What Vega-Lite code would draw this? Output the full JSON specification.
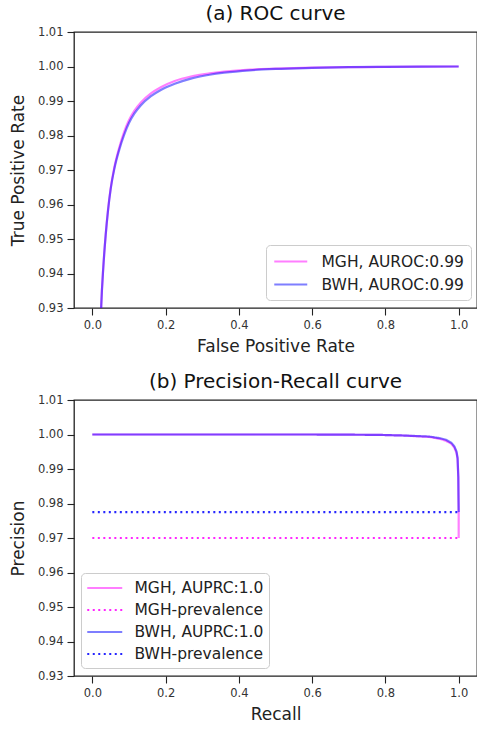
{
  "$schema": "https://vega.github.io/schema/vega-lite/v6.json",
  "padding": {"left": 8, "top": 3, "right": 0, "bottom": 0},
  "config": {
    "font": "DejaVu Sans",
    "view": {"stroke": "#222", "strokeWidth": 1.3},
    "axis": {"grid": false, "domain": false, "tickColor": "#222", "tickSize": 7, "tickWidth": 1.1, "labelFontSize": 11.5, "labelColor": "#333", "titleFontSize": 17, "titleFontWeight": "normal", "titleColor": "#222", "labelPadding": 4},
    "title": {"fontSize": 20, "fontWeight": "normal", "color": "#111", "offset": 2},
    "legend": {"labelFontSize": 15.5, "labelColor": "#222", "strokeColor": "#ccc", "fillColor": "white", "cornerRadius": 4, "symbolType": "M-1,0H3", "symbolStrokeWidth": 2.2, "labelLimit": 300}
  },
  "datasets": {
    "roc": [
      {"s": "MGH, AUROC:0.99", "fpr": 0.012, "tpr": 0.86},
      {"s": "MGH, AUROC:0.99", "fpr": 0.020, "tpr": 0.915},
      {"s": "MGH, AUROC:0.99", "fpr": 0.0245, "tpr": 0.931},
      {"s": "MGH, AUROC:0.99", "fpr": 0.030, "tpr": 0.9418},
      {"s": "MGH, AUROC:0.99", "fpr": 0.0365, "tpr": 0.9512},
      {"s": "MGH, AUROC:0.99", "fpr": 0.043, "tpr": 0.9586},
      {"s": "MGH, AUROC:0.99", "fpr": 0.050, "tpr": 0.9646},
      {"s": "MGH, AUROC:0.99", "fpr": 0.060, "tpr": 0.9707},
      {"s": "MGH, AUROC:0.99", "fpr": 0.073, "tpr": 0.9763},
      {"s": "MGH, AUROC:0.99", "fpr": 0.0865, "tpr": 0.9809},
      {"s": "MGH, AUROC:0.99", "fpr": 0.100, "tpr": 0.9844},
      {"s": "MGH, AUROC:0.99", "fpr": 0.115, "tpr": 0.9872},
      {"s": "MGH, AUROC:0.99", "fpr": 0.132, "tpr": 0.9895},
      {"s": "MGH, AUROC:0.99", "fpr": 0.160, "tpr": 0.9922},
      {"s": "MGH, AUROC:0.99", "fpr": 0.187, "tpr": 0.9940},
      {"s": "MGH, AUROC:0.99", "fpr": 0.225, "tpr": 0.9958},
      {"s": "MGH, AUROC:0.99", "fpr": 0.269, "tpr": 0.9971},
      {"s": "MGH, AUROC:0.99", "fpr": 0.32, "tpr": 0.9980},
      {"s": "MGH, AUROC:0.99", "fpr": 0.36, "tpr": 0.9985},
      {"s": "MGH, AUROC:0.99", "fpr": 0.43, "tpr": 0.9991},
      {"s": "MGH, AUROC:0.99", "fpr": 0.5, "tpr": 0.9994},
      {"s": "MGH, AUROC:0.99", "fpr": 0.6, "tpr": 0.9997},
      {"s": "MGH, AUROC:0.99", "fpr": 0.7, "tpr": 0.9998},
      {"s": "MGH, AUROC:0.99", "fpr": 0.8, "tpr": 0.9999},
      {"s": "MGH, AUROC:0.99", "fpr": 0.9, "tpr": 0.99997},
      {"s": "MGH, AUROC:0.99", "fpr": 1.0, "tpr": 1.0},
      {"s": "BWH, AUROC:0.99", "fpr": 0.012, "tpr": 0.86},
      {"s": "BWH, AUROC:0.99", "fpr": 0.020, "tpr": 0.915},
      {"s": "BWH, AUROC:0.99", "fpr": 0.0245, "tpr": 0.931},
      {"s": "BWH, AUROC:0.99", "fpr": 0.030, "tpr": 0.9418},
      {"s": "BWH, AUROC:0.99", "fpr": 0.0365, "tpr": 0.9512},
      {"s": "BWH, AUROC:0.99", "fpr": 0.043, "tpr": 0.9584},
      {"s": "BWH, AUROC:0.99", "fpr": 0.050, "tpr": 0.9644},
      {"s": "BWH, AUROC:0.99", "fpr": 0.060, "tpr": 0.9703},
      {"s": "BWH, AUROC:0.99", "fpr": 0.073, "tpr": 0.9757},
      {"s": "BWH, AUROC:0.99", "fpr": 0.0865, "tpr": 0.9801},
      {"s": "BWH, AUROC:0.99", "fpr": 0.100, "tpr": 0.9836},
      {"s": "BWH, AUROC:0.99", "fpr": 0.115, "tpr": 0.9864},
      {"s": "BWH, AUROC:0.99", "fpr": 0.132, "tpr": 0.9887},
      {"s": "BWH, AUROC:0.99", "fpr": 0.160, "tpr": 0.9914},
      {"s": "BWH, AUROC:0.99", "fpr": 0.187, "tpr": 0.9932},
      {"s": "BWH, AUROC:0.99", "fpr": 0.225, "tpr": 0.9950},
      {"s": "BWH, AUROC:0.99", "fpr": 0.269, "tpr": 0.9965},
      {"s": "BWH, AUROC:0.99", "fpr": 0.32, "tpr": 0.9976},
      {"s": "BWH, AUROC:0.99", "fpr": 0.36, "tpr": 0.9982},
      {"s": "BWH, AUROC:0.99", "fpr": 0.43, "tpr": 0.9989},
      {"s": "BWH, AUROC:0.99", "fpr": 0.5, "tpr": 0.9993},
      {"s": "BWH, AUROC:0.99", "fpr": 0.6, "tpr": 0.9996},
      {"s": "BWH, AUROC:0.99", "fpr": 0.7, "tpr": 0.9998},
      {"s": "BWH, AUROC:0.99", "fpr": 0.8, "tpr": 0.9999},
      {"s": "BWH, AUROC:0.99", "fpr": 0.9, "tpr": 0.99997},
      {"s": "BWH, AUROC:0.99", "fpr": 1.0, "tpr": 1.0}
    ],
    "pr": [
      {"s": "MGH, AUPRC:1.0", "i": 0, "recall": 0.0, "precision": 1.0},
      {"s": "MGH, AUPRC:1.0", "i": 1, "recall": 0.3, "precision": 1.0},
      {"s": "MGH, AUPRC:1.0", "i": 2, "recall": 0.6, "precision": 1.0},
      {"s": "MGH, AUPRC:1.0", "i": 3, "recall": 0.78, "precision": 0.9999},
      {"s": "MGH, AUPRC:1.0", "i": 4, "recall": 0.85, "precision": 0.9997},
      {"s": "MGH, AUPRC:1.0", "i": 5, "recall": 0.92, "precision": 0.9993},
      {"s": "MGH, AUPRC:1.0", "i": 6, "recall": 0.95, "precision": 0.9987},
      {"s": "MGH, AUPRC:1.0", "i": 7, "recall": 0.965, "precision": 0.9982},
      {"s": "MGH, AUPRC:1.0", "i": 8, "recall": 0.98, "precision": 0.9973},
      {"s": "MGH, AUPRC:1.0", "i": 9, "recall": 0.988, "precision": 0.9962},
      {"s": "MGH, AUPRC:1.0", "i": 10, "recall": 0.994, "precision": 0.9947},
      {"s": "MGH, AUPRC:1.0", "i": 11, "recall": 0.997, "precision": 0.9929},
      {"s": "MGH, AUPRC:1.0", "i": 12, "recall": 0.999, "precision": 0.9874},
      {"s": "MGH, AUPRC:1.0", "i": 13, "recall": 0.9995, "precision": 0.982},
      {"s": "MGH, AUPRC:1.0", "i": 14, "recall": 1.0, "precision": 0.9775},
      {"s": "MGH, AUPRC:1.0", "i": 15, "recall": 1.0, "precision": 0.970},
      {"s": "MGH-prevalence", "i": 0, "recall": 0.0, "precision": 0.970},
      {"s": "MGH-prevalence", "i": 1, "recall": 1.0, "precision": 0.970},
      {"s": "BWH, AUPRC:1.0", "i": 0, "recall": 0.0, "precision": 1.0},
      {"s": "BWH, AUPRC:1.0", "i": 1, "recall": 0.3, "precision": 1.0},
      {"s": "BWH, AUPRC:1.0", "i": 2, "recall": 0.6, "precision": 1.0},
      {"s": "BWH, AUPRC:1.0", "i": 3, "recall": 0.78, "precision": 0.9999},
      {"s": "BWH, AUPRC:1.0", "i": 4, "recall": 0.85, "precision": 0.9997},
      {"s": "BWH, AUPRC:1.0", "i": 5, "recall": 0.92, "precision": 0.9994},
      {"s": "BWH, AUPRC:1.0", "i": 6, "recall": 0.95, "precision": 0.9989},
      {"s": "BWH, AUPRC:1.0", "i": 7, "recall": 0.965, "precision": 0.9985},
      {"s": "BWH, AUPRC:1.0", "i": 8, "recall": 0.98, "precision": 0.9976},
      {"s": "BWH, AUPRC:1.0", "i": 9, "recall": 0.988, "precision": 0.9966},
      {"s": "BWH, AUPRC:1.0", "i": 10, "recall": 0.994, "precision": 0.9951},
      {"s": "BWH, AUPRC:1.0", "i": 11, "recall": 0.997, "precision": 0.9932},
      {"s": "BWH, AUPRC:1.0", "i": 12, "recall": 0.999, "precision": 0.9876},
      {"s": "BWH, AUPRC:1.0", "i": 13, "recall": 0.9995, "precision": 0.982},
      {"s": "BWH, AUPRC:1.0", "i": 14, "recall": 1.0, "precision": 0.9775},
      {"s": "BWH-prevalence", "i": 0, "recall": 0.0, "precision": 0.9775},
      {"s": "BWH-prevalence", "i": 1, "recall": 1.0, "precision": 0.9775}
    ]
  },
  "spacing": 15,
  "resolve": {"scale": {"color": "independent", "opacity": "independent", "strokeDash": "independent", "x": "independent", "y": "independent"}, "legend": {"color": "independent", "opacity": "independent", "strokeDash": "independent"}},
  "vconcat": [
    {
      "title": "(a) ROC curve",
      "width": 403,
      "height": 276,
      "data": {"name": "roc"},
      "mark": {"type": "line", "clip": true, "strokeWidth": 2.2, "interpolate": "monotone"},
      "encoding": {
        "x": {"field": "fpr", "type": "quantitative", "title": "False Positive Rate", "scale": {"domain": [-0.05, 1.05], "nice": false, "zero": false}, "axis": {"values": [0, 0.2, 0.4, 0.6, 0.8, 1.0], "format": ".1f", "titlePadding": 8}},
        "y": {"field": "tpr", "type": "quantitative", "title": "True Positive Rate", "scale": {"domain": [0.93, 1.01], "nice": false, "zero": false}, "axis": {"values": [0.93, 0.94, 0.95, 0.96, 0.97, 0.98, 0.99, 1.0, 1.01], "format": ".2f", "titlePadding": 10}},
        "color": {"field": "s", "type": "nominal", "scale": {"domain": ["MGH, AUROC:0.99", "BWH, AUROC:0.99"], "range": ["#ff00ff", "#0000ff"]}, "legend": {"title": null, "orient": "none", "legendX": 192, "legendY": 213, "symbolSize": 272, "labelOffset": 29.5, "rowPadding": 5, "padding": 7}},
        "opacity": {"field": "s", "type": "nominal", "scale": {"type": "ordinal", "domain": ["MGH, AUROC:0.99", "BWH, AUROC:0.99"], "range": [0.5, 0.5]}, "legend": {"title": null, "orient": "none", "legendX": 192, "legendY": 213, "symbolSize": 272, "labelOffset": 29.5, "rowPadding": 5, "padding": 7}}
      }
    },
    {
      "title": "(b) Precision-Recall curve",
      "width": 403,
      "height": 276,
      "data": {"name": "pr"},
      "mark": {"type": "line", "clip": true, "strokeWidth": 2.2},
      "encoding": {
        "x": {"field": "recall", "type": "quantitative", "title": "Recall", "scale": {"domain": [-0.05, 1.05], "nice": false, "zero": false}, "axis": {"values": [0, 0.2, 0.4, 0.6, 0.8, 1.0], "format": ".1f", "titlePadding": 8}},
        "y": {"field": "precision", "type": "quantitative", "title": "Precision", "scale": {"domain": [0.93, 1.01], "nice": false, "zero": false}, "axis": {"values": [0.93, 0.94, 0.95, 0.96, 0.97, 0.98, 0.99, 1.0, 1.01], "format": ".2f", "titlePadding": 10}},
        "order": {"field": "i", "type": "quantitative"},
        "color": {"field": "s", "type": "nominal", "scale": {"domain": ["MGH, AUPRC:1.0", "MGH-prevalence", "BWH, AUPRC:1.0", "BWH-prevalence"], "range": ["#ff00ff", "#ff00ff", "#0000ff", "#0000ff"]}, "legend": {"title": null, "orient": "none", "legendX": 7, "legendY": 173, "symbolSize": 306, "labelOffset": 28.5, "rowPadding": 3, "padding": 5}},
        "opacity": {"field": "s", "type": "nominal", "scale": {"type": "ordinal", "domain": ["MGH, AUPRC:1.0", "MGH-prevalence", "BWH, AUPRC:1.0", "BWH-prevalence"], "range": [0.5, 0.85, 0.5, 0.85]}, "legend": {"title": null, "orient": "none", "legendX": 7, "legendY": 173, "symbolSize": 306, "labelOffset": 28.5, "rowPadding": 3, "padding": 5}},
        "strokeDash": {"field": "s", "type": "nominal", "scale": {"domain": ["MGH, AUPRC:1.0", "MGH-prevalence", "BWH, AUPRC:1.0", "BWH-prevalence"], "range": [[1, 0], [2, 3.5], [1, 0], [2, 3.5]]}, "legend": {"title": null, "orient": "none", "legendX": 7, "legendY": 173, "symbolSize": 306, "labelOffset": 28.5, "rowPadding": 3, "padding": 5}}
      }
    }
  ]
}
